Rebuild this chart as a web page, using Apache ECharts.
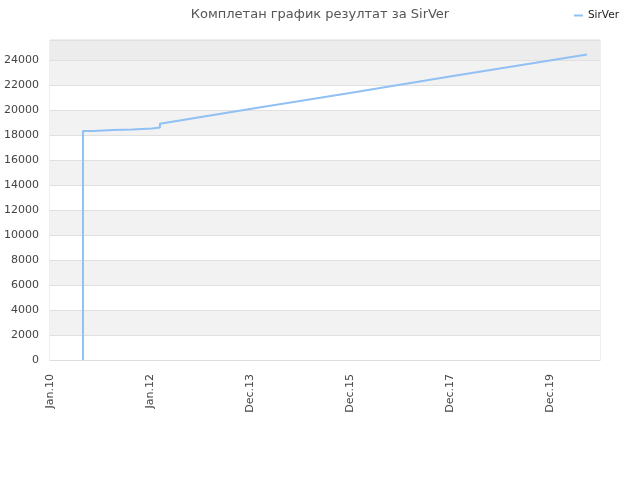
<!DOCTYPE html>
<html><head><meta charset="utf-8">
<script src="https://cdn.jsdelivr.net/npm/echarts@6/dist/echarts.min.js"></script>
<style>html,body{margin:0;padding:0;background:#fff}#c{width:640px;height:480px}</style>
</head><body><div id="c"></div>
<script>
var seriesName = 'SirVer';
var titleText = 'Комплетан график резултат за SirVer';
var dates = ['2010-09-06','2010-09-06','2010-11-18','2010-11-18','2011-04-12','2011-04-12','2011-08-28','2011-08-28','2012-01-19','2012-01-19','2012-03-17','2012-03-17','2013-12-30','2015-12-24','2017-12-18','2019-12-13','2020-09-07'];
var values = [0,18320,18320,18400,18400,18440,18440,18520,18520,18600,18600,18900,20080,21360,22680,23960,24440];
var tickLabels = ['Jan.10','Jan.12','Dec.13','Dec.15','Dec.17','Dec.19'];
var xStart = '2010-01-10';
var xEnd = '2020-12-11';
var tickStepDays = 725;
var yMax = 25600;

var DAY = 86400000;
function ts(s){ return Date.parse(s + 'T00:00:00Z'); }
function dayOf(s){ return (ts(s) - ts(xStart)) / DAY; }
var bandColors = [];
for (var i = 0; i < 12; i++) bandColors.push(i % 2 === 0 ? '#ffffff' : '#f2f2f2');
bandColors.push('#ececec');

var chart = echarts.init(document.getElementById('c'));
chart.setOption({
  animation: false,
  textStyle: { fontFamily: 'DejaVu Sans' },
  title: { text: titleText, left: 'center', top: 3,
    textStyle: { fontSize: 13, fontWeight: 'normal', color: '#555', fontFamily: 'DejaVu Sans' } },
  legend: { right: 16, top: 5, itemWidth: 9, itemHeight: 2, icon: 'rect', itemGap: 8,
    data: [seriesName], textStyle: { fontSize: 10.5, color: '#222' } },
  grid: { left: 50, right: 40, top: 40, bottom: 120, show: true, borderColor: '#dddddd', borderWidth: 1,
    outerBoundsMode: 'none', containLabel: false },
  xAxis: {
    type: 'value', min: 0, max: dayOf(xEnd), interval: tickStepDays,
    axisLine: { show: true, lineStyle: { color: '#dddddd' } },
    axisTick: { show: false },
    splitLine: { show: false },
    axisLabel: {
      rotate: 90, margin: 14, fontSize: 11, color: '#444', showMaxLabel: false,
      formatter: function (v) {
        var k = Math.round(v / tickStepDays);
        return tickLabels[k] || '';
      }
    }
  },
  yAxis: {
    type: 'value', min: 0, max: yMax, interval: 2000,
    axisLine: { show: false }, axisTick: { show: false },
    axisLabel: { fontSize: 11, color: '#444', margin: 11, showMaxLabel: false,
      formatter: function (v) { return String(v); } },
    splitLine: { show: true, lineStyle: { color: '#e0e0e0' } },
    splitArea: { show: true, areaStyle: { color: bandColors } }
  },
  series: [{
    name: seriesName, type: 'line', showSymbol: false, symbol: 'none',
    lineStyle: { color: '#90c0f4', width: 2 }, itemStyle: { color: '#90c0f4' },
    data: dates.map(function (d, i) { return [dayOf(d), values[i]]; })
  }]
});
</script></body></html>
